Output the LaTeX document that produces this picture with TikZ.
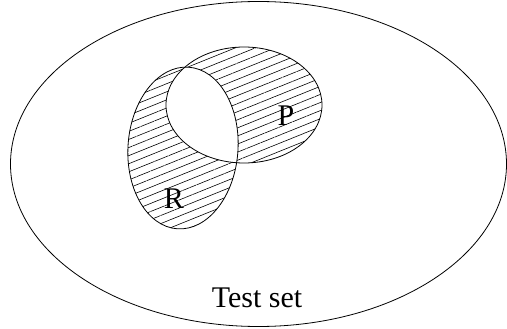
\documentclass[tikz,border=0pt]{standalone}
\usepackage{fontspec}
\setmainfont{Liberation Serif}
\usetikzlibrary{patterns.meta}
\begin{document}
\begin{tikzpicture}[x=1pt,y=-1pt,line width=0.8pt,
  lbl/.style={font=\fontsize{30}{32}\selectfont, inner sep=0pt},
  hatch/.style={pattern={Lines[angle=22,distance=7.5pt,line width=0.6pt]}}]
\useasboundingbox (0,0) rectangle (507,329);
% hatched symmetric difference of R and P
\fill[hatch, even odd rule]
  (244,105) ellipse [x radius=78, y radius=58]
  (183,148) [rotate around={-4:(183,148)}] ellipse [x radius=55, y radius=81];
\draw (183,148) [rotate around={-4:(183,148)}] ellipse [x radius=55, y radius=81];
\draw (244,105) ellipse [x radius=78, y radius=58];
\draw (258.5,164) ellipse [x radius=248, y radius=162.5];
\node[lbl] (r) at (174,199) {R};
\node[lbl] (p) at (286,116) {P};
\node[lbl] (t) at (257,298) {Test set};
\end{tikzpicture}
\end{document}
